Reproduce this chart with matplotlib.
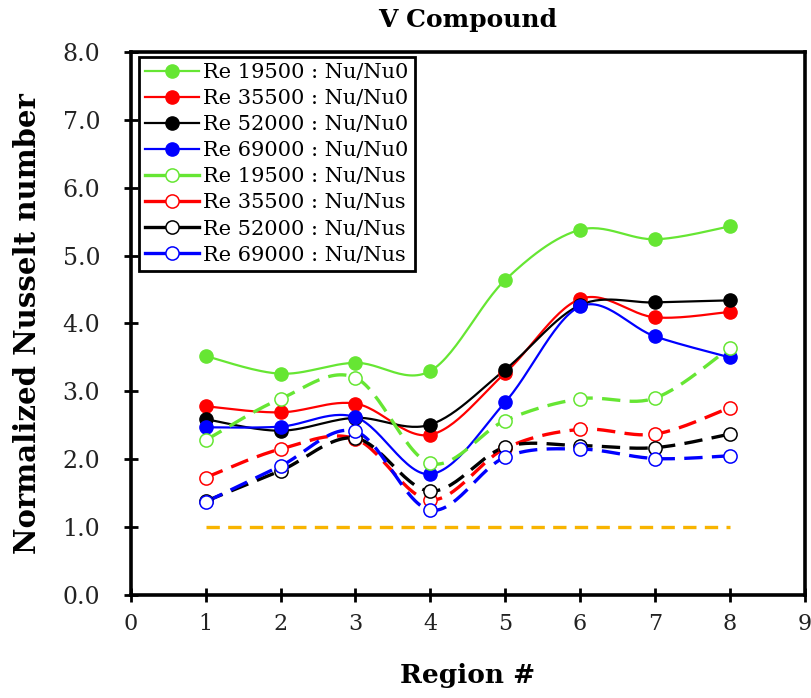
import numpy as np
import matplotlib
matplotlib.use("Agg")
import matplotlib.pyplot as plt
from matplotlib.lines import Line2D

regions = [1, 2, 3, 4, 5, 6, 7, 8]

re_labels = ["Re 19500", "Re 35500", "Re 52000", "Re 69000"]
colors = ["#66E633", "#FF0000", "#000000", "#0000FF"]

nu_nu0 = {
    "Re 19500": [3.52, 3.26, 3.42, 3.30, 4.64, 5.38, 5.24, 5.43],
    "Re 35500": [2.78, 2.69, 2.82, 2.36, 3.27, 4.36, 4.09, 4.17],
    "Re 52000": [2.59, 2.42, 2.61, 2.51, 3.32, 4.27, 4.31, 4.34],
    "Re 69000": [2.47, 2.48, 2.62, 1.78, 2.84, 4.25, 3.81, 3.50],
}
nu_nus = {
    "Re 19500": [2.28, 2.89, 3.20, 1.94, 2.57, 2.89, 2.90, 3.64],
    "Re 35500": [1.73, 2.15, 2.30, 1.40, 2.16, 2.44, 2.37, 2.76],
    "Re 52000": [1.38, 1.83, 2.31, 1.53, 2.18, 2.20, 2.17, 2.37],
    "Re 69000": [1.37, 1.90, 2.41, 1.25, 2.03, 2.15, 2.01, 2.05],
}
baseline = [1.0] * len(regions)


def smooth(x, y, n=30):
    x = np.asarray(x, float)
    y = np.asarray(y, float)
    P = np.column_stack([x, y])
    out = []
    for i in range(len(P) - 1):
        p0 = P[i - 1] if i > 0 else P[i]
        p1 = P[i]
        p2 = P[i + 1]
        p3 = P[i + 2] if i + 2 < len(P) else P[i + 1]
        c1 = p1 + (p2 - p0) / 6.0
        c2 = p2 - (p3 - p1) / 6.0
        t = np.linspace(0, 1, n)[:, None]
        seg = ((1 - t) ** 3) * p1 + 3 * ((1 - t) ** 2) * t * c1 + 3 * (1 - t) * t ** 2 * c2 + t ** 3 * p2
        if i > 0:
            seg = seg[1:]
        out.append(seg)
    out = np.vstack(out)
    return out[:, 0], out[:, 1]


plt.rcParams['font.family'] = ['DejaVu Serif']
fig = plt.figure(figsize=(8.12, 6.98), dpi=100)
ax = fig.add_axes([0.161, 0.1476, 0.830, 0.778])

handles = []
labels = []
for lab, c in zip(re_labels, colors):
    sx, sy = smooth(regions, nu_nu0[lab])
    ax.plot(sx, sy, color=c, lw=1.6, solid_capstyle='round', zorder=3)
    ax.plot(regions, nu_nu0[lab], linestyle='none', marker='o', ms=9.5,
            mfc=c, mec=c, zorder=4)
    handles.append(Line2D([], [], color=c, lw=1.6, marker='o', ms=9.5, mfc=c, mec=c))
    labels.append(f"{lab} : Nu/Nu0")

for lab, c in zip(re_labels, colors):
    sx, sy = smooth(regions, nu_nus[lab])
    ax.plot(sx, sy, color=c, lw=2.4, dashes=(5.5, 2.8), zorder=3)
    ax.plot(regions, nu_nus[lab], linestyle='none', marker='o', ms=9.5,
            mfc='white', mec=c, mew=1.1, zorder=4)
    handles.append(Line2D([], [], color=c, lw=2.4, marker='o', ms=9.5, mfc='white', mec=c, mew=1.1))
    labels.append(f"{lab} : Nu/Nus")

ax.plot(regions, baseline, color='#F8B400', lw=2.4, dashes=(4.0, 2.5), zorder=2)

ax.set_xlim(0, 9)
ax.set_ylim(0, 8)
ax.set_xticks(range(0, 10))
ax.set_yticks(np.arange(0, 8.5, 1.0))
ax.set_yticklabels([f"{v:.1f}" for v in np.arange(0, 8.5, 1.0)])
ax.tick_params(axis='both', direction='inout', length=10, width=2, colors='black')
ax.tick_params(axis='y', labelsize=17, pad=17, labelcolor='#222222')
ax.tick_params(axis='x', labelsize=16, pad=8, labelcolor='#222222')
for s in ax.spines.values():
    s.set_linewidth(2.6)

ax.set_title("V Compound", fontsize=18, fontweight='bold', pad=18)
ax.set_xlabel("Region #", fontsize=19, fontweight='bold', labelpad=20)
ax.set_ylabel("Normalized Nusselt number", fontsize=21, fontweight='bold', labelpad=15)

leg = ax.legend(handles, labels, loc='upper left', bbox_to_anchor=(0.012, 0.991),
                borderaxespad=0, fontsize=15, frameon=True, fancybox=False,
                handlelength=2.6, handletextpad=0.2, labelspacing=0.34,
                borderpad=0.3, framealpha=1)
leg.get_frame().set_edgecolor('black')
leg.get_frame().set_linewidth(2.0)

fig.savefig("out.png", dpi=100)
